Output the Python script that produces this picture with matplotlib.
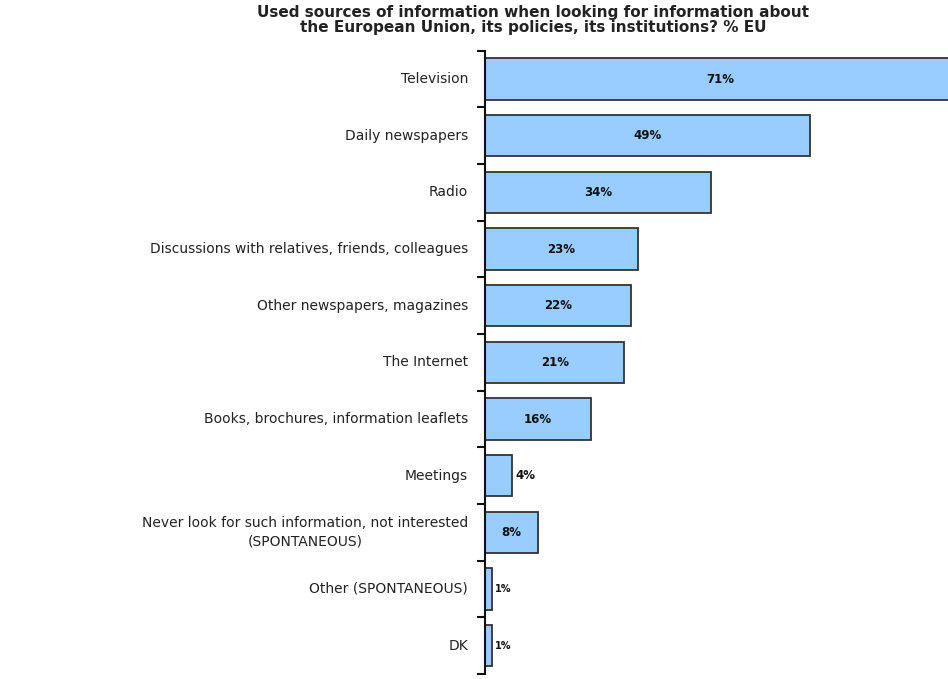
import matplotlib
matplotlib.use("Agg")
import matplotlib.pyplot as plt

categories = [
    "Television",
    "Daily newspapers",
    "Radio",
    "Discussions with relatives, friends, colleagues",
    "Other newspapers, magazines",
    "The Internet",
    "Books, brochures, information leaflets",
    "Meetings",
    "Never look for such information, not interested\n(SPONTANEOUS)",
    "Other (SPONTANEOUS)",
    "DK",
]
values = [71, 49, 34, 23, 22, 21, 16, 4, 8, 1, 1]
title = ("Used sources of information when looking for information about\n"
         "the European Union, its policies, its institutions? % EU")

plt.rcParams['font.family'] = ['DejaVu Sans']

fig = plt.figure(figsize=(9.48, 6.79), dpi=100)
ax = fig.add_axes([0.5116, 0.0074, 0.4884, 0.9179])

n = len(categories)
ypos = list(range(n))
ax.barh(ypos, values, height=0.73, color="#99CCFF", edgecolor="#333333",
        linewidth=1.3, zorder=2)

ax.set_ylim(n - 0.5, -0.5)
ax.set_xlim(0, 69.8)

for y, v in zip(ypos, values):
    if v >= 8:
        ax.text(v / 2, y, f"{v}%", ha="center", va="center", fontsize=8.5,
                fontweight="bold", color="#111111")
    elif v >= 4:
        ax.text(v + 0.6, y, f"{v}%", ha="left", va="center", fontsize=8.5,
                fontweight="bold", color="#111111")
    else:
        ax.text(v + 0.5, y, f"{v}%", ha="left", va="center", fontsize=7,
                fontweight="bold", color="#111111")

for s in ["top", "right", "bottom"]:
    ax.spines[s].set_visible(False)
ax.spines["left"].set_linewidth(1.5)
ax.spines["left"].set_color("#111111")

ax.set_xticks([])
ax.set_yticks([i - 0.5 for i in range(n + 1)])
ax.set_yticklabels([])
ax.tick_params(axis="y", length=6, width=1.5, color="#111111", direction="out")

for y, c in zip(ypos, categories):
    ax.annotate(c, xy=(0, y), xycoords=("axes fraction", "data"),
                xytext=(-17, 0), textcoords="offset pixels",
                ha="right", va="center", fontsize=10, color="#222222",
                multialignment="center", linespacing=1.35)

fig.text(0.562, 0.992, title, ha="center", va="top", fontsize=11,
         fontweight="bold", color="#222222", linespacing=1.0)

fig.savefig("out.png", dpi=100)
